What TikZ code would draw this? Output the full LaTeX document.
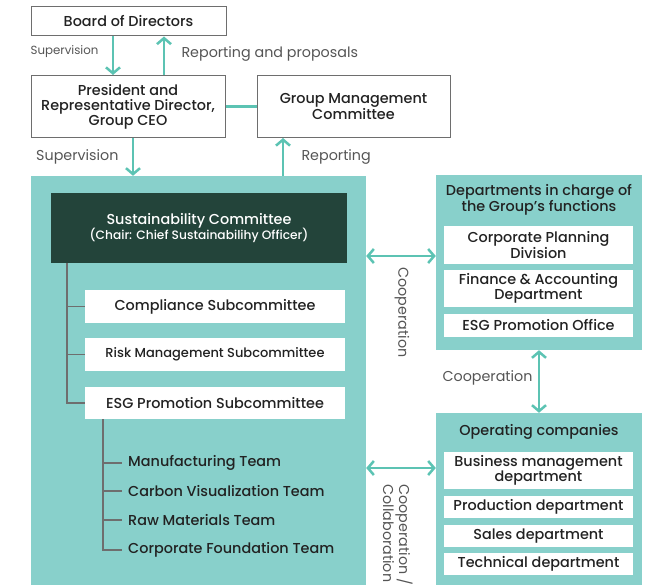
\documentclass[tikz,border=0pt]{standalone}
\usepackage{fontspec}
\setmainfont{Poppins}[BoldFont={Poppins Medium}]
\usetikzlibrary{arrows.meta,positioning}
\definecolor{tealbg}{HTML}{88D0CB}
\definecolor{tealarr}{HTML}{5CC3B3}
\definecolor{darkgreen}{HTML}{23443A}
\definecolor{txt}{HTML}{222222}
\definecolor{lbl}{HTML}{555555}
\definecolor{treeline}{HTML}{6E6E6E}

\begin{document}
\begin{tikzpicture}[x=1pt,y=-1pt,
		every node/.style = {text=txt,font=\fontsize{14.4}{15}\selectfont\bfseries},
		topbox/.style = {draw=treeline,fill=white,line width=1pt,align=center,inner sep=0pt},
		whitebox/.style = {fill=white,align=center,inner sep=0pt},
		tealbox/.style = {fill=tealbg,inner sep=0pt},
		darkbox/.style = {fill=darkgreen,align=center,inner sep=0pt},
		arr/.style = {draw=tealarr,line width=2.5pt,-{Straight Barb[length=6pt,width=14pt]}},
		darr/.style = {draw=tealarr,line width=2.5pt,{Straight Barb[length=6pt,width=14pt]}-{Straight Barb[length=6pt,width=14pt]}},
		branch/.style = {draw=treeline,line width=1.5pt},
		lbltext/.style = {text=lbl,font=\fontsize{14.3}{16}\selectfont},
		teamtext/.style = {anchor=west,inner sep=0pt}]
		\useasboundingbox (0,0) rectangle (668,585);
		% top level
		\node [topbox,minimum width=195pt,minimum height=29pt] (board) at (128.5,21.5) {Board of Directors};
		\node [topbox,minimum width=194pt,minimum height=62pt] (ceo) at (128,106.5) {President and\\Representative Director,\\Group CEO};
		\node [topbox,minimum width=193pt,minimum height=62pt] (gmc) at (353.5,106.5) {Group Management\\Committee};
		\draw [draw=tealarr,line width=2.5pt] (ceo.east) -- (gmc.west);
		\coordinate (supx) at (113,0);
		\coordinate (repx) at (164,0);
		\draw [arr] (board.south -| supx) -- (ceo.north -| supx);
		\draw [arr] (ceo.north -| repx) -- (board.south -| repx);
		\node [lbltext,font=\fontsize{11.8}{13}\selectfont,anchor=east] (suplbl) at (102,52) {Supervision};
		\node [lbltext,anchor=west] (replbl) at (178,54) {Reporting and proposals};
		% sustainability block
		\node [tealbox,minimum width=335pt,minimum height=411pt] (sbox) at (198.5,381.5) {};
		\coordinate (sup2x) at (133,0);
		\coordinate (rep2x) at (283,0);
		\draw [arr] (ceo.south -| sup2x) -- (sbox.north -| sup2x);
		\draw [arr] (sbox.north -| rep2x) -- (gmc.south -| rep2x);
		\node [lbltext,anchor=east] (sup2lbl) at (122,157) {Supervision};
		\node [lbltext,anchor=west] (rep2lbl) at (298,157) {Reporting};
		\node [darkbox,minimum width=296pt,minimum height=70pt] (sust) at (199,228) {\textcolor{white}{\fontsize{14.4}{17}\selectfont\bfseries Sustainability Committee}\\[-1pt]\textcolor{white}{\fontsize{12.2}{14}\selectfont\bfseries (Chair: Chief Sustainabilihy Officer)}};
		\node [whitebox,minimum width=260pt,minimum height=33pt] (comp) at (215,306.5) {Compliance Subcommittee};
		\node [whitebox,minimum width=260pt,minimum height=33pt,font=\fontsize{13}{15}\selectfont\bfseries] (risk) at (215,354.5) {Risk Management Subcommittee};
		\node [whitebox,minimum width=260pt,minimum height=32pt] (esgsub) at (215,403) {ESG Promotion Subcommittee};
		\coordinate (tree1) at (67,0);
		\draw [branch] (sust.south -| tree1) |- (esgsub.west);
		\draw [branch] (tree1 |- comp.west) -- (comp.west);
		\draw [branch] (tree1 |- risk.west) -- (risk.west);
		% teams
		\node [teamtext] (manu) at (128,463) {Manufacturing Team};
		\node [teamtext] (carbon) at (128,491) {Carbon Visualization Team};
		\node [teamtext] (raw) at (128,520) {Raw Materials Team};
		\node [teamtext] (found) at (128,550) {Corporate Foundation Team};
		\coordinate (tree2) at (103,0);
		\foreach \t in {manu,carbon,raw}
			\draw [branch] (tree2 |- \t.west) -- ++(19,0);
		\draw [branch] (esgsub.south -| tree2) |- ([xshift=-6pt]found.west);
		% departments
		\node [tealbox,minimum width=206pt,minimum height=175pt] (dept) at (539,262.5) {};
		\node [align=center,font=\fontsize{14.4}{16.5}\selectfont\bfseries] (depttitle) at (539,200) {Departments in charge of\\the Group’s functions};
		\node [whitebox,minimum width=189pt,minimum height=38pt] (cpd) at (538.5,245) {Corporate Planning\\Division};
		\node [whitebox,minimum width=189pt,minimum height=37pt] (fad) at (538.5,288.5) {Finance \& Accounting\\Department};
		\node [whitebox,minimum width=189pt,minimum height=23pt] (esgo) at (538.5,325.5) {ESG Promotion Office};
		% operating companies
		\node [tealbox,minimum width=206pt,minimum height=174pt] (opco) at (539,500) {};
		\node (optitle) at (539,432) {Operating companies};
		\node [whitebox,minimum width=189pt,minimum height=37pt] (bmd) at (538.5,470.5) {Business management\\department};
		\node [whitebox,minimum width=189pt,minimum height=22pt] (prod) at (538.5,507) {Production department};
		\node [whitebox,minimum width=189pt,minimum height=22pt] (sales) at (538.5,536) {Sales department};
		\node [whitebox,minimum width=189pt,minimum height=22pt] (tech) at (538.5,564) {Technical department};
		% cooperation arrows
		\coordinate (coop1y) at (0,256);
		\coordinate (coop2y) at (0,468);
		\coordinate (coop3x) at (539,0);
		\draw [darr] (sbox.east |- coop1y) -- (dept.west |- coop1y);
		\draw [darr] (sbox.east |- coop2y) -- (opco.west |- coop2y);
		\draw [darr] (dept.south -| coop3x) -- (opco.north -| coop3x);
		\node [lbltext,rotate=-90,anchor=west] (coop1lbl) at (402,264) {Cooperation};
		\node [lbltext,rotate=-90,anchor=north west,align=left] (coop2lbl) at (416,481) {Cooperation /\\Collaboration};
		\node [lbltext,anchor=east] (coop3lbl) at (536,378) {Cooperation};
\end{tikzpicture}
\end{document}
